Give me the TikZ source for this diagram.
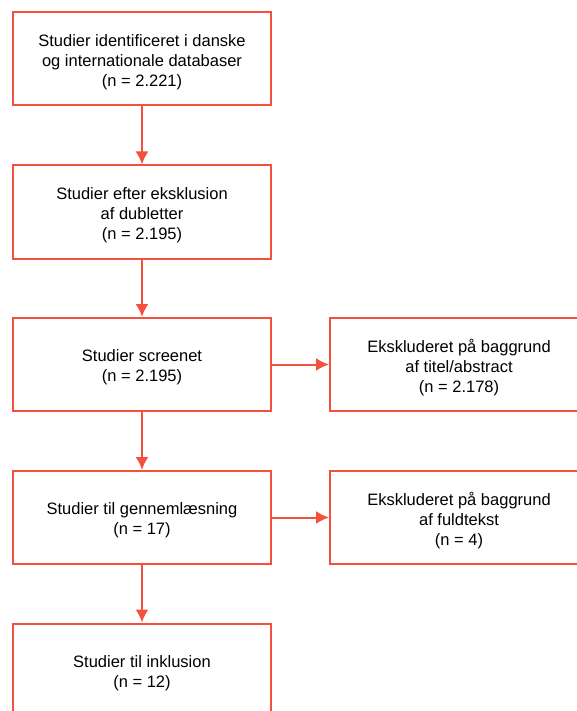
\documentclass[tikz,border=0pt]{standalone}
\usepackage{fontspec}
\setmainfont{Liberation Sans}
\usetikzlibrary{arrows.meta}
\definecolor{flowred}{RGB}{243,80,62}
\begin{document}
\begin{tikzpicture}[x=1pt, y=-1pt, >=latex,
    boxtext/.style={align=center, inner sep=0pt, yshift=-3pt, font=\fontsize{16.5}{20}\selectfont},
    box/.style={draw=flowred, line width=2pt, minimum width=258pt, minimum height=93pt,
        inner sep=0pt, label={[boxtext]center:#1}},
    arr/.style={->, draw=flowred, line width=2pt, >={Latex[length=13pt,width=13pt]}}]
    \useasboundingbox (0,0) rectangle (577,711);
    % 1. Venstre kolonne
    \node[box={Studier identificeret i danske\\og internationale databaser\\(n = 2.221)}] (ident) at (142,59) {};
    \node[box={Studier efter eksklusion\\af dubletter\\(n = 2.195)}] (dublet) at (142,212) {};
    \node[box={Studier screenet\\(n = 2.195)}] (screen) at (142,364.5) {};
    \node[box={Studier til gennemlæsning\\(n = 17)}] (laes) at (142,517.5) {};
    \node[box={Studier til inklusion\\(n = 12)}] (inkl) at (142,670) {};
    % 2. Eksklusioner
    \node[box={Ekskluderet på baggrund\\af titel/abstract\\(n = 2.178)}] (eksabs) at (459,364.5) {};
    \node[box={Ekskluderet på baggrund\\af fuldtekst\\(n = 4)}] (eksfuld) at (459,517.5) {};
    % 3. Pile
    \draw[arr] (ident) -- (dublet);
    \draw[arr] (dublet) -- (screen);
    \draw[arr] (screen) -- (laes);
    \draw[arr] (laes) -- (inkl);
    \draw[arr] (screen) -- (eksabs);
    \draw[arr] (laes) -- (eksfuld);
\end{tikzpicture}
\end{document}
